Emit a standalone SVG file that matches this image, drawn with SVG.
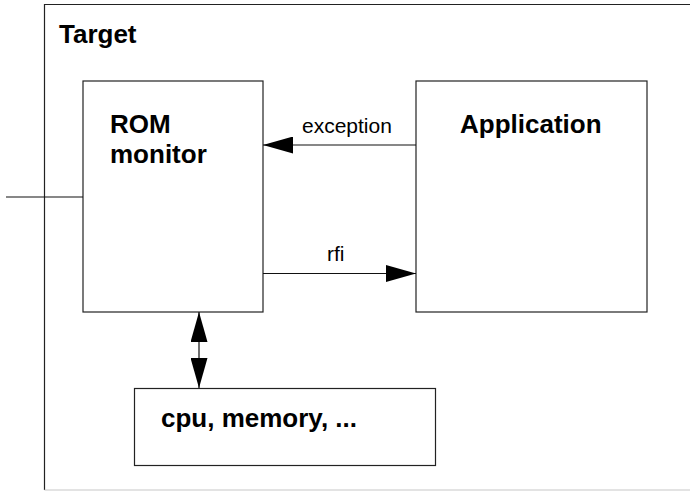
<svg xmlns="http://www.w3.org/2000/svg" width="690" height="491" viewBox="0 0 690 491">
<style>
.box{fill:#fff;stroke:#222;stroke-width:1.2}
.ln{stroke:#111;stroke-width:1.2;fill:none}
.b{font-family:"Liberation Sans",Arial,sans-serif;font-weight:bold;font-size:26px;fill:#000}
.r{font-family:"Liberation Sans",Arial,sans-serif;font-size:21px;fill:#000}
</style>
<defs>
<marker id="ah" viewBox="0 0 30 17" refX="30" refY="8.5" markerWidth="30" markerHeight="17" markerUnits="userSpaceOnUse" orient="auto-start-reverse">
<path d="M0,0 L30,8.5 L0,17 Z" fill="#000"/>
</marker>
</defs>
<g id="target">
<rect x="44.5" y="4.5" width="660" height="485.5" fill="#fff" stroke="none"/>
<path d="M690,4.5 H44.5 V490" fill="none" stroke="#222" stroke-width="1.2"/>
<line x1="44.5" y1="490" x2="690" y2="490" stroke="#c8c8c8" stroke-width="1.2"/>
<text class="b" x="59" y="43">Target</text>
</g>
<g id="rom">
<rect class="box" x="83" y="81" width="180" height="231"/>
<text class="b" x="110" y="133">ROM</text>
<text class="b" x="110" y="163">monitor</text>
</g>
<g id="app">
<rect class="box" x="416" y="81" width="231" height="231"/>
<text class="b" x="460" y="133">Application</text>
</g>
<g id="cpu">
<rect class="box" x="134.5" y="388.5" width="301" height="77"/>
<text class="b" x="161" y="427">cpu, memory, ...</text>
</g>
<g id="connectors">
<line class="ln" x1="6" y1="197" x2="83" y2="197"/>
<line class="ln" x1="416" y1="145" x2="263" y2="145" marker-end="url(#ah)"/>
<text class="r" x="302" y="133">exception</text>
<line class="ln" x1="263" y1="273.5" x2="416" y2="273.5" marker-end="url(#ah)"/>
<text class="r" x="327" y="261">rfi</text>
<line class="ln" x1="199" y1="312" x2="199" y2="388" marker-start="url(#ah)" marker-end="url(#ah)"/>
</g>
</svg>
